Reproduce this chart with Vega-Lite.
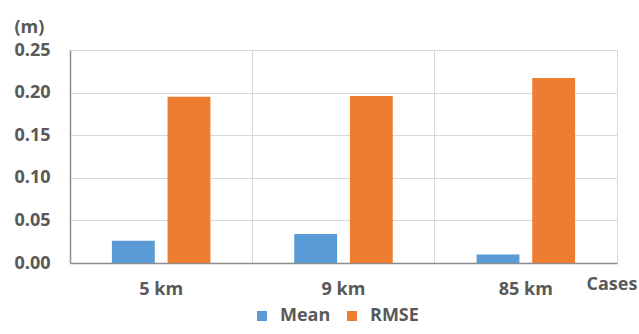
{
  "$schema": "https://vega.github.io/schema/vega-lite/v6.json",
  "width": 547,
  "height": 213,
  "autosize": {"type": "none"},
  "padding": {"left": 70, "top": 50, "right": 22, "bottom": 71},
  "background": "white",
  "data": {
    "values": [
      {"case": "5 km", "metric": "Mean", "value": 0.026},
      {"case": "5 km", "metric": "RMSE", "value": 0.195},
      {"case": "9 km", "metric": "Mean", "value": 0.034},
      {"case": "9 km", "metric": "RMSE", "value": 0.196},
      {"case": "85 km", "metric": "Mean", "value": 0.010},
      {"case": "85 km", "metric": "RMSE", "value": 0.217}
    ]
  },
  "mark": {"type": "bar"},
  "encoding": {
    "x": {
      "field": "case",
      "type": "nominal",
      "sort": ["5 km", "9 km", "85 km"],
      "scale": {"paddingInner": 0, "paddingOuter": 0},
      "axis": {
        "title": "Cases",
        "titleX": 516,
        "titleY": 21,
        "titleAlign": "left",
        "titleBaseline": "middle",
        "titleAnchor": null,
        "labelAngle": 0,
        "labelPadding": 17,
        "ticks": false,
        "grid": true,
        "bandPosition": 0,
        "gridColor": "#d9d9d9",
        "domainColor": "#8c8c8c",
        "domainWidth": 1.5
      }
    },
    "xOffset": {
      "field": "metric",
      "type": "nominal",
      "scale": {"paddingInner": 0.23, "paddingOuter": 0.753}
    },
    "y": {
      "field": "value",
      "type": "quantitative",
      "scale": {"domain": [0, 0.25]},
      "axis": {
        "title": "(m)",
        "titleAngle": 0,
        "titleX": -56,
        "titleY": -23,
        "titleAlign": "left",
        "titleBaseline": "middle",
        "values": [0, 0.05, 0.1, 0.15, 0.2, 0.25],
        "format": ".2f",
        "labelPadding": 20,
        "ticks": false,
        "gridColor": "#d9d9d9",
        "domainColor": "#8c8c8c",
        "domainWidth": 1.5
      }
    },
    "color": {
      "field": "metric",
      "type": "nominal",
      "scale": {"domain": ["Mean", "RMSE"], "range": ["#5b9bd5", "#ed7d31"]},
      "legend": {
        "title": null,
        "orient": "none",
        "direction": "horizontal",
        "legendX": 183,
        "legendY": 257,
        "symbolType": "square",
        "symbolSize": 100,
        "symbolStrokeWidth": 0,
        "labelOffset": 9,
        "columnPadding": 12
      }
    }
  },
  "config": {
    "font": "Open Sans",
    "view": {"stroke": "#d9d9d9"},
    "axis": {
      "labelFont": "Open Sans",
      "labelFontSize": 18,
      "labelFontWeight": "bold",
      "labelColor": "#595959",
      "titleFont": "Open Sans",
      "titleFontSize": 18,
      "titleFontWeight": "bold",
      "titleColor": "#595959"
    },
    "legend": {
      "labelFont": "Open Sans",
      "labelFontSize": 18,
      "labelFontWeight": "bold",
      "labelColor": "#595959"
    }
  }
}
